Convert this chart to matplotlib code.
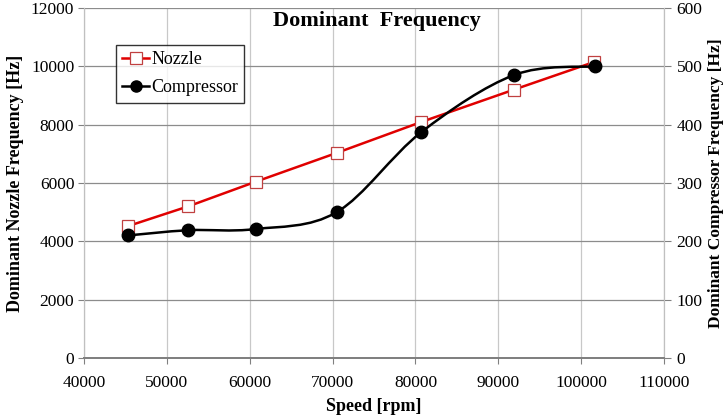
import matplotlib
matplotlib.use("Agg")
from matplotlib import pyplot as plt
from matplotlib.path import Path
from matplotlib.patches import PathPatch
from matplotlib.lines import Line2D

speed_nozzle = [45300, 52600, 60700, 70500, 80700, 91900, 101600]
nozzle_freq = [4520, 5200, 6040, 7030, 8090, 9200, 10150]

speed_comp = [45300, 52600, 60700, 70500, 80700, 91900, 101700]
comp_freq = [210, 219, 221, 250, 387, 485, 500]

x_ticks = [40000, 50000, 60000, 70000, 80000, 90000, 100000, 110000]
y_left_ticks = [0, 2000, 4000, 6000, 8000, 10000, 12000]
y_right_ticks = [0, 100, 200, 300, 400, 500, 600]

plt.rcParams['font.family'] = ['Liberation Serif', 'DejaVu Serif']

fig = plt.figure(figsize=(7.28, 4.17), dpi=100)
ax = fig.add_axes([0.1154, 0.1415, 0.7967, 0.8395])
ax2 = ax.twinx()

# grid: vertical light, horizontal darker
ax.set_xlim(40000, 110000)
ax.set_ylim(0, 12000)
ax2.set_ylim(0, 600)
ax.set_xticks(x_ticks)
ax.set_yticks(y_left_ticks)
ax2.set_yticks(y_right_ticks)
ax.xaxis.grid(True, color='#c8c8c8', linewidth=0.9)
ax.yaxis.grid(True, color='#8c8c8c', linewidth=0.9)
ax.set_axisbelow(True)

for a in (ax, ax2):
    a.spines['top'].set_visible(False)
    a.spines['left'].set_color('#c0c0c0')
    a.spines['right'].set_color('#c0c0c0')
    a.spines['bottom'].set_color('#808080')
    a.spines['bottom'].set_linewidth(1.4)
    a.set_facecolor('none')

ax.tick_params(axis='both', labelsize=12.5, length=4, color='#808080', pad=3)
ax.tick_params(axis='x', length=4, pad=8)
ax2.tick_params(axis='y', labelsize=12.5, length=5, color='#808080', pad=4)

# nozzle: straight red line with open squares
ax.plot(speed_nozzle, nozzle_freq, color='#e00000', linewidth=1.8,
        marker='s', markersize=8, markerfacecolor='white',
        markeredgecolor='#c04040', markeredgewidth=0.9, zorder=3)

# compressor: smoothed black line (Excel style bezier)
n = len(speed_comp)
pts = list(zip(speed_comp, comp_freq))
verts = [pts[0]]
codes = [Path.MOVETO]
for i in range(n - 1):
    p0 = pts[i - 1] if i > 0 else pts[i]
    p1 = pts[i]
    p2 = pts[i + 1]
    p3 = pts[i + 2] if i + 2 < n else pts[i + 1]
    c1 = (p1[0] + (p2[0] - p0[0]) / 6, p1[1] + (p2[1] - p0[1]) / 6)
    c2 = (p2[0] - (p3[0] - p1[0]) / 6, p2[1] - (p3[1] - p1[1]) / 6)
    verts += [c1, c2, p2]
    codes += [Path.CURVE4] * 3
ax2.add_patch(PathPatch(Path(verts, codes), facecolor='none',
                        edgecolor='black', linewidth=1.8, zorder=3))
ax2.plot(speed_comp, comp_freq, linestyle='none', marker='o',
         markersize=9, color='black', zorder=4)

ax.set_xlabel('Speed [rpm]', fontsize=13, fontweight='bold', labelpad=5)
ax.set_ylabel('Dominant Nozzle Frequency [Hz]', fontsize=13,
              fontweight='bold', labelpad=5)
ax2.set_ylabel('Dominant Compressor Frequency [Hz]', fontsize=12.5,
               fontweight='bold', labelpad=4)
ax.text(0.505, 0.99, 'Dominant  Frequency', transform=ax.transAxes,
        ha='center', va='top', fontsize=16, fontweight='bold')

handles = [
    Line2D([], [], color='#e00000', linewidth=1.8, marker='s', markersize=8,
           markerfacecolor='white', markeredgecolor='#c04040',
           markeredgewidth=0.9),
    Line2D([], [], color='black', linewidth=1.8, marker='o', markersize=8),
]
leg = ax2.legend(handles, ['Nozzle', 'Compressor'], loc='upper left',
                 bbox_to_anchor=(0.055, 0.894), fontsize=13, frameon=True,
                 fancybox=False, edgecolor='black', handlelength=1.5,
                 handletextpad=0.1, borderpad=0.35, labelspacing=0.6,
                 borderaxespad=0.0)
leg.get_frame().set_linewidth(1.0)

fig.savefig('out.png', dpi=100)
